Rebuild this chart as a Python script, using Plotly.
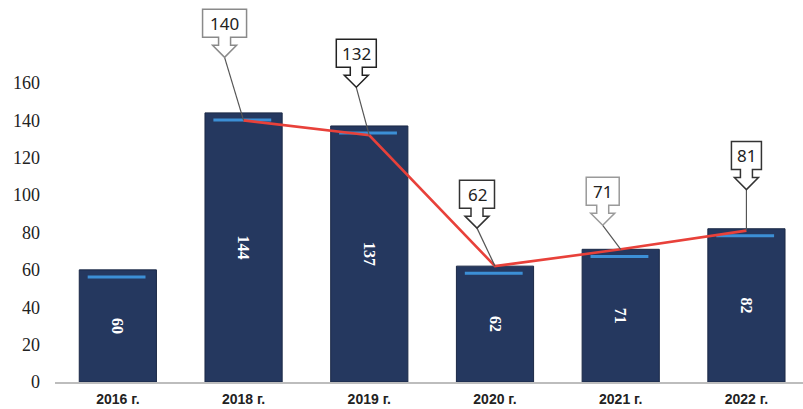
import plotly.graph_objects as go

categories = ["2016 г.", "2018 г.", "2019 г.", "2020 г.", "2021 г.", "2022 г."]
bar_values = [60, 144, 137, 62, 71, 82]
line_values = [None, 140, 132, 62, 71, 81]
callout_labels = ["140", "132", "62", "71", "81"]
y_ticks = [0, 20, 40, 60, 80, 100, 120, 140, 160]

x_idx = list(range(len(categories)))

BAR = "#25385f"
STRIPE = "#3c8fd6"
RED = "#e8413a"

fig = go.Figure()

fig.add_trace(go.Bar(
    x=x_idx, y=bar_values, width=0.614,
    marker=dict(color=BAR, line=dict(color="#1b2946", width=1)),
    text=[str(v) for v in bar_values], textposition="inside",
    insidetextanchor="middle", textangle=90,
    textfont=dict(family="Liberation Serif", size=16, color="white", weight="bold"),
    hoverinfo="skip", showlegend=False,
))

# light highlight stripe near the top of each bar
sx, sy = [], []
for i, v in zip(x_idx, bar_values):
    sx += [i - 0.24, i + 0.22, None]
    sy += [v - 3.8, v - 3.8, None]
fig.add_trace(go.Scatter(x=sx, y=sy, mode="lines",
                         line=dict(color=STRIPE, width=3),
                         hoverinfo="skip", showlegend=False))

fig.add_trace(go.Scatter(x=x_idx, y=line_values, mode="lines",
                         line=dict(color=RED, width=2.6),
                         hoverinfo="skip", showlegend=False))

# callouts: (tip dx, tip dy up, box width, border colour)
callout_style = [(-19, 63, 44, "#8a8a8a"), (-13, 48, 40, "#222222"),
                 (-18, 38, 35, "#333333"), (-18, 24, 33, "#9a9a9a"),
                 (0, 41, 30, "#333333")]
H = 28
shapes = []
annotations = []
pts = [(i, v) for i, v in zip(x_idx, line_values) if v is not None]
for (i, v), lab, (tx, ty, w, bc) in zip(pts, callout_labels, callout_style):
    shapes.append(dict(type="path", xref="x", yref="y", xsizemode="pixel", ysizemode="pixel",
                       xanchor=i, yanchor=v, path=f"M0,0 L{tx},{ty}",
                       line=dict(color="#555555", width=1.2)))
    b = ty + 20
    p = (f"M{tx - w/2},{b} L{tx - 6},{b} L{tx - 6},{ty + 12} L{tx - 12},{ty + 12} "
         f"L{tx},{ty} L{tx + 12},{ty + 12} L{tx + 6},{ty + 12} L{tx + 6},{b} "
         f"L{tx + w/2},{b} L{tx + w/2},{b + H} L{tx - w/2},{b + H} Z")
    shapes.append(dict(type="path", xref="x", yref="y", xsizemode="pixel", ysizemode="pixel",
                       xanchor=i, yanchor=v, path=p, fillcolor="white",
                       line=dict(color=bc, width=1.5)))
    annotations.append(dict(x=i, y=v, xref="x", yref="y", text=lab, showarrow=False,
                            xshift=tx, yshift=b + H / 2,
                            font=dict(family="Noto Sans", size=17, color="#222222")))

fig.update_layout(
    width=803, height=409,
    margin=dict(l=55, r=0, t=0, b=27),
    paper_bgcolor="white", plot_bgcolor="white",
    bargap=0.38,
    shapes=shapes, annotations=annotations,
    xaxis=dict(range=[-0.5, 5.45], tickvals=x_idx, ticktext=categories, automargin=False,
               showgrid=False, zeroline=False, showline=True, linecolor="#bdbdbd", linewidth=1.5,
               ticks="", ticklabelstandoff=3,
               tickfont=dict(family="Liberation Sans", size=14, color="#222222", weight="bold")),
    yaxis=dict(range=[0, 204.4], tickvals=y_ticks, showgrid=False, zeroline=False, automargin=False,
               showline=False, ticks="", ticklabelstandoff=14,
               tickfont=dict(family="Liberation Serif", size=18, color="#222222")),
)

fig.write_html("out.html", config={"displayModeBar": False},
               post_script="document.body.style.margin='0';")
